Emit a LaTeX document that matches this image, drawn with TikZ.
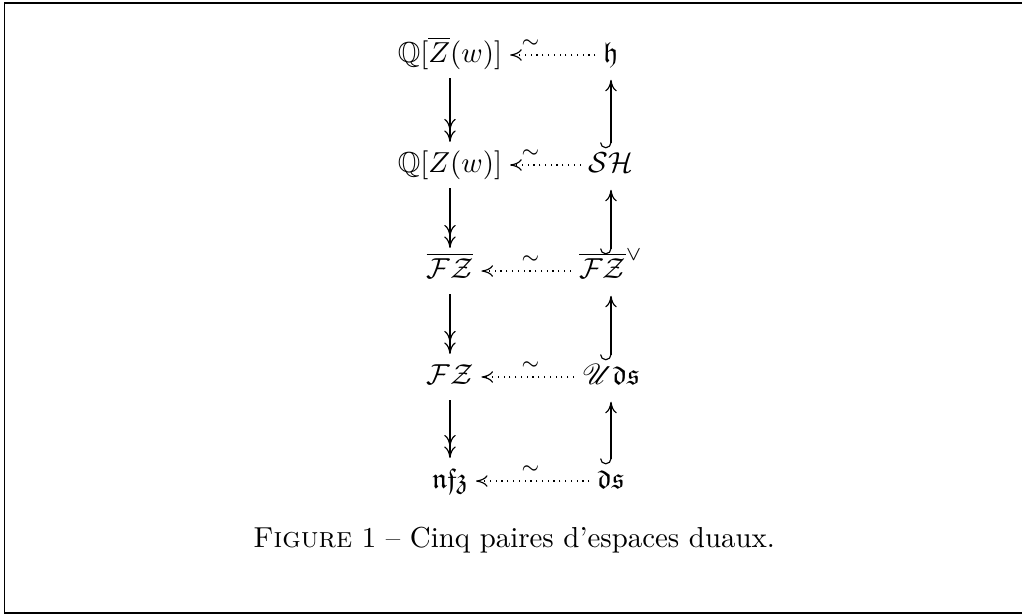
\documentclass[tikz,border=0pt]{standalone}
\usepackage{amsmath}
\usepackage{amssymb}
\usepackage{mathrsfs}
\usepackage{tikz}
\usetikzlibrary{arrows.meta}

\tikzset{
  space/.style={text height=1.8ex, text depth=.6ex, inner sep=2.6pt},
  surj/.style={-{Computer Modern Rightarrow[length=4pt, width=4pt] Computer Modern Rightarrow[length=4pt, width=4pt]}, thin},
  inj/.style={{Hooks[right, width=7.6pt, length=2pt]}-{Computer Modern Rightarrow[length=4pt, width=4pt]}, thin, shorten <=-2.2pt, shorten >=0.6pt},
  dual/.style={-{Computer Modern Rightarrow[length=4pt, width=4pt]}, thin, dash pattern=on 0.4pt off 1.6pt},
  iso/.style={above=1.5pt, inner sep=1pt, font=\scriptsize}
}

\begin{document}
\begin{tikzpicture}[scale=1]
    \useasboundingbox (0,0) rectangle (12.433,-7.482);
    \draw[line width=0.6pt] (12.6,-0.035) -- (0.055,-0.035) -- (0.055,-7.457) -- (12.6,-7.457);

    % Left column
    \node[space] (qzb) at (5.474,-0.669) {$\mathbb{Q}[\overline{Z}(w)]$};
    \node[space] (qz)  at (5.474,-2.007) {$\mathbb{Q}[Z(w)]$};
    \node[space] (fzb) at (5.474,-3.297) {$\overline{\mathcal{FZ}}$};
    \node[space] (fz)  at (5.474,-4.586) {$\mathcal{FZ}$};
    \node[space] (nfz) at (5.474,-5.852) {$\mathfrak{nfz}$};

    % Right column (duals)
    \node[space] (h)   at (7.433,-0.669) {$\mathfrak{h}$};
    \node[space] (sh)  at (7.433,-2.007) {$\mathcal{SH}$};
    \node[space] (fzd) at (7.433,-3.297) {$\overline{\mathcal{FZ}}^{\vee}$};
    \node[space] (uds) at (7.433,-4.586) {$\mathscr{U}\mathfrak{ds}$};
    \node[space] (ds)  at (7.433,-5.852) {$\mathfrak{ds}$};

    % Surjections
    \draw[surj] (qzb) -- (qz);
    \draw[surj] (qz) -- (fzb);
    \draw[surj] (fzb) -- (fz);
    \draw[surj] (fz) -- (nfz);

    % Injections
    \draw[inj] (sh) -- (h);
    \draw[inj] (fzd) -- (sh);
    \draw[inj] (uds) -- (fzd);
    \draw[inj] (ds) -- (uds);

    % Dualities
    \draw[dual] (h) -- (qzb);
    \draw[dual] (sh) -- (qz);
    \draw[dual] (fzd) -- (fzb);
    \draw[dual] (uds) -- (fz);
    \draw[dual] (ds) -- (nfz);
    \path (qzb.center) -- node[iso] {$\sim$} (h.center);
    \path (qz.center) -- node[iso] {$\sim$} (sh.center);
    \path (fzb.center) -- node[iso] {$\sim$} (fzd.center);
    \path (fz.center) -- node[iso] {$\sim$} (uds.center);
    \path (nfz.center) -- node[iso] {$\sim$} (ds.center);

    % Caption
    \node (cap) at (6.253,-6.569) {\textsc{Figure}~1 -- Cinq paires d'espaces duaux.};
\end{tikzpicture}
\end{document}
